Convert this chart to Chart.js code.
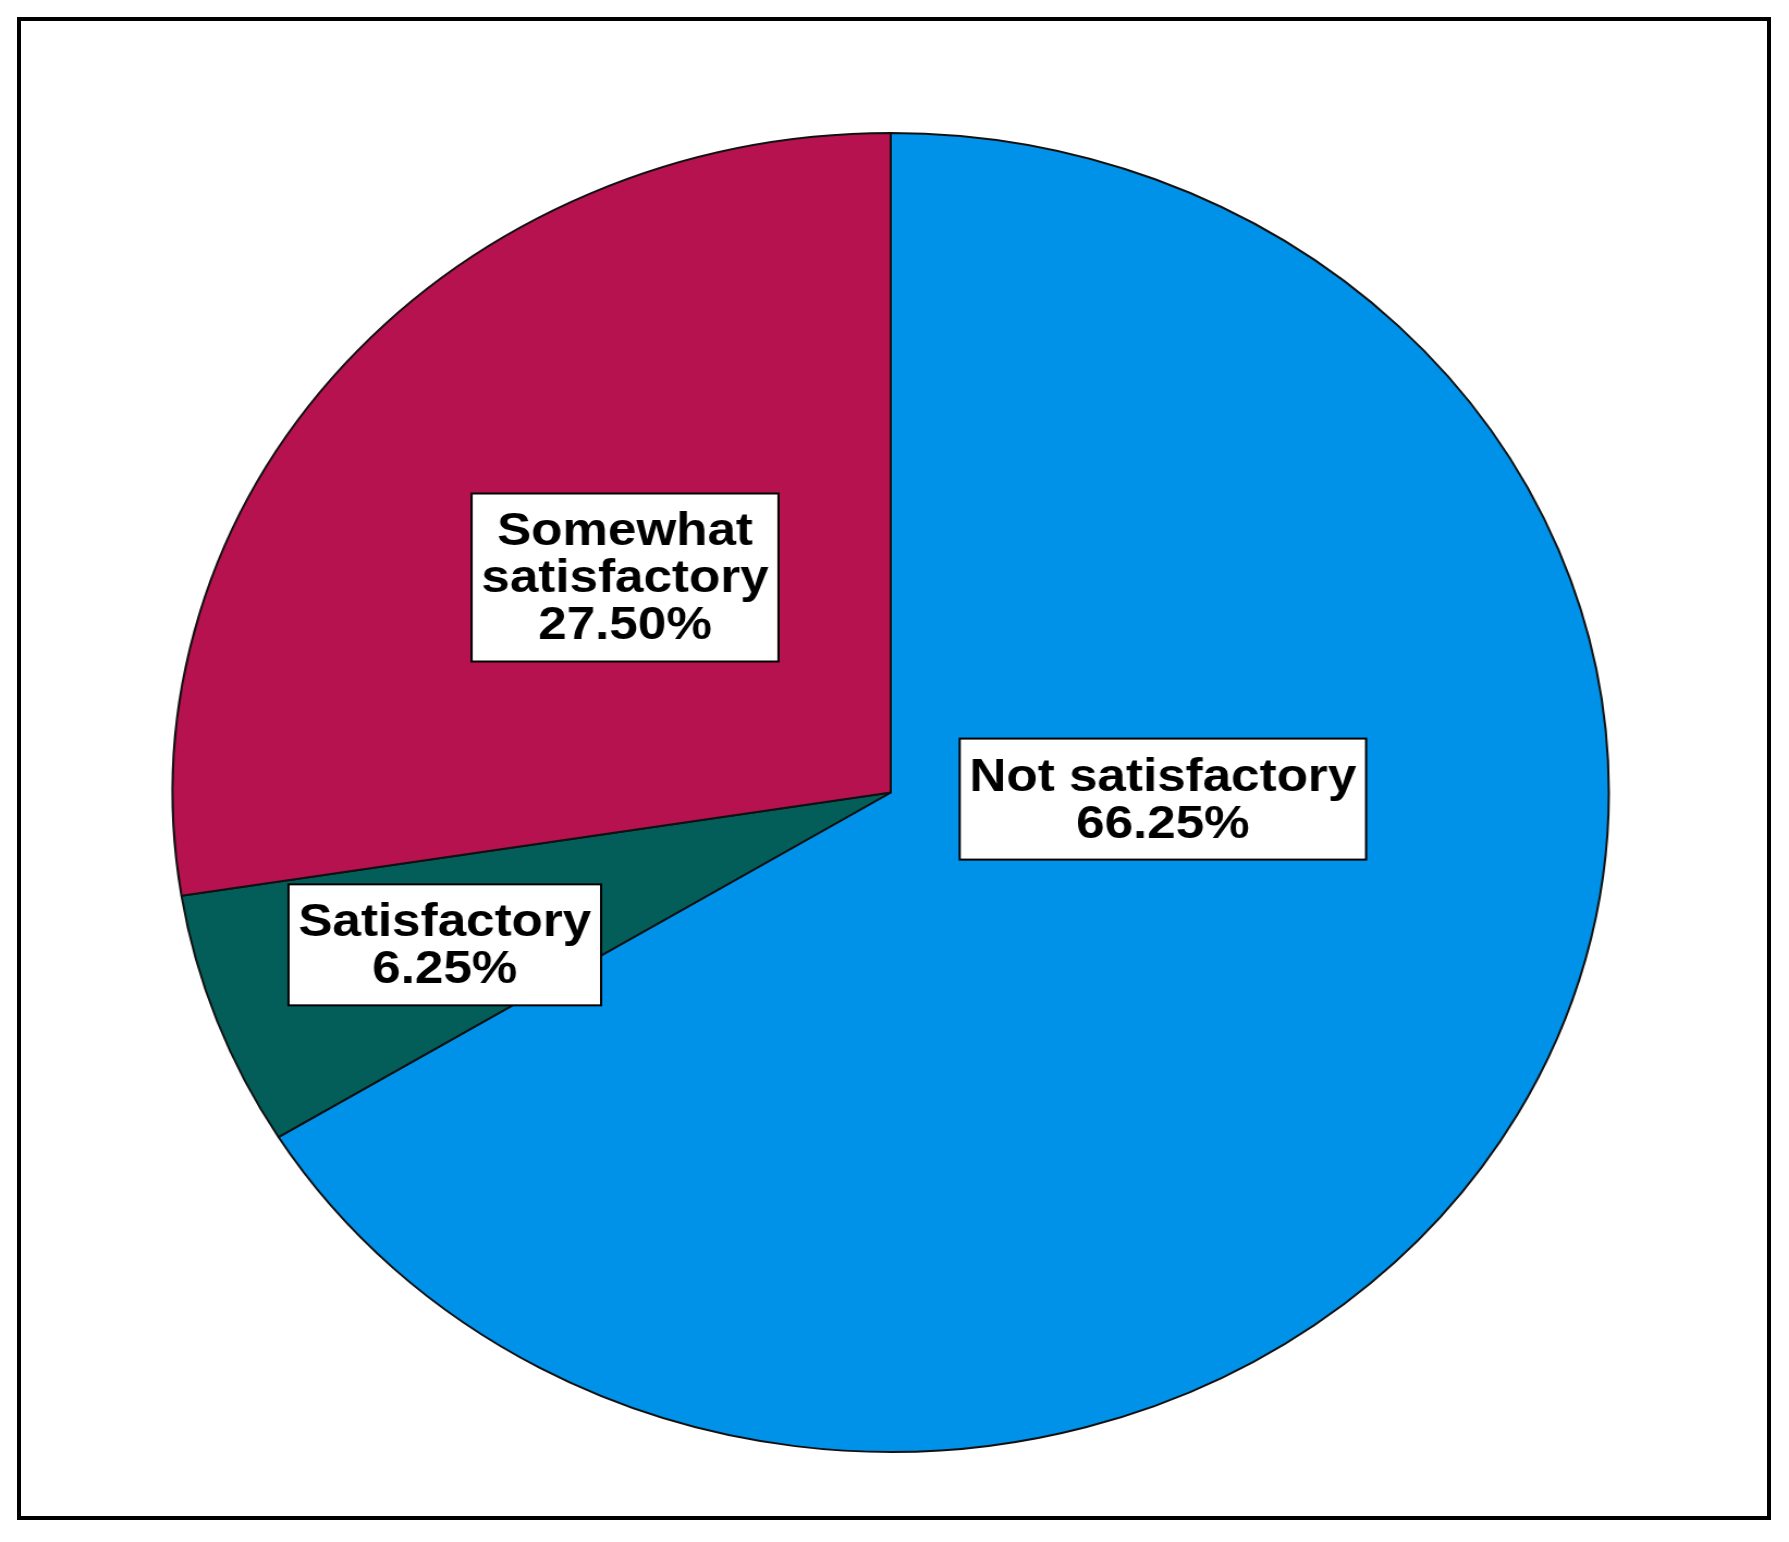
<!DOCTYPE html>
<html>
<head>
<meta charset="utf-8">
<script src="https://cdn.jsdelivr.net/npm/chart.js@4/dist/chart.umd.min.js"></script>
<style>
  html, body { margin: 0; padding: 0; background: #fff; }
  body { width: 1789px; height: 1542px; position: relative; overflow: hidden; }
  #frame {
    position: absolute; left: 17px; top: 17px;
    width: 1746px; height: 1495px;
    border: 4px solid #000;
  }
  /* the source picture is stretched sideways, so the pie is an ellipse */
  #wrapper {
    position: absolute; left: 0; top: 0;
    width: 1643px; height: 1542px;
    transform: scaleX(1.0889); transform-origin: 0 0;
  }
</style>
</head>
<body>
<div id="frame"></div>
<div id="wrapper"><canvas id="chartjs" width="1643" height="1542"></canvas></div>
<script>
const categories = ['Not satisfactory', 'Satisfactory', 'Somewhat satisfactory'];
const percents = [66.25, 6.25, 27.50];
const colors = ['#0091E8', '#035E5A', '#B71250'];

// label anchors as fractions of the radius, from the pie centre
const labelSpots = [[0.379, 0.010], [-0.621, 0.231], [-0.370, -0.326]];
// wrapped label lines
const labelLines = [['Not satisfactory'], ['Satisfactory'], ['Somewhat', 'satisfactory']];

const boxLabels = {
  id: 'boxLabels',
  afterDraw(chart) {
    const ctx = chart.ctx;
    const arcs = chart.getDatasetMeta(0).data;
    ctx.save();
    ctx.font = 'bold 47px "Liberation Sans", Arial, sans-serif';
    ctx.textAlign = 'center';
    ctx.textBaseline = 'middle';
    const lineH = 47;
    arcs.forEach((arc, i) => {
      const lines = labelLines[i].concat([percents[i].toFixed(2) + '%']);
      const cx = arc.x + labelSpots[i][0] * arc.outerRadius;
      const cy = arc.y + labelSpots[i][1] * arc.outerRadius;
      let w = 0;
      lines.forEach(l => { w = Math.max(w, ctx.measureText(l).width); });
      const bw = w + 18;
      const bh = lines.length * lineH + 27;
      ctx.fillStyle = '#fff';
      ctx.fillRect(cx - bw / 2, cy - bh / 2, bw, bh);
      ctx.strokeStyle = '#000';
      ctx.lineWidth = 2;
      ctx.strokeRect(cx - bw / 2, cy - bh / 2, bw, bh);
      ctx.fillStyle = '#000';
      lines.forEach((l, k) => {
        ctx.fillText(l, cx, cy + (k - (lines.length - 1) / 2) * lineH + 2);
      });
    });
    ctx.restore();
  }
};

drawChart('chartjs', {
  type: 'pie',
  data: {
    labels: categories,
    datasets: [{
      data: percents,
      backgroundColor: colors,
      borderColor: '#111',
      borderWidth: 2
    }]
  },
  options: {
    responsive: false,
    animation: false,
    layout: { padding: { top: 132, bottom: 89, left: 157, right: 164 } },
    plugins: {
      legend: { display: false },
      tooltip: { enabled: false }
    }
  },
  plugins: [boxLabels]
});

function drawChart(id, config) {
  const ctx = document.getElementById(id).getContext('2d');
  new Chart(ctx, config);
}
</script>
</body>
</html>
